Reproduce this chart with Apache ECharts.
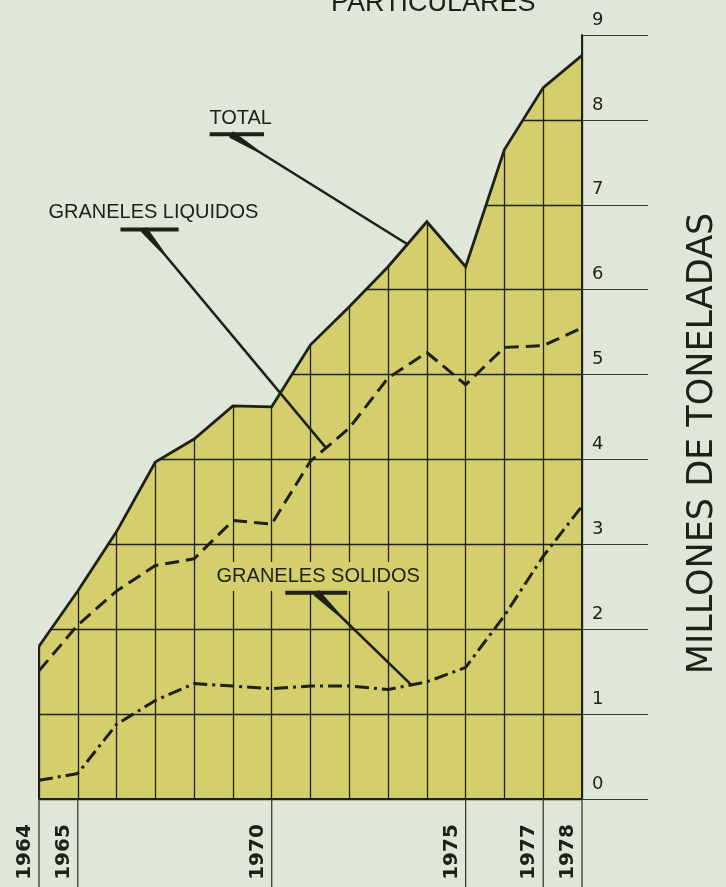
<!DOCTYPE html>
<html><head><meta charset="utf-8">
<script src="https://cdn.jsdelivr.net/npm/echarts@6/dist/echarts.min.js"></script>
<style>html,body{margin:0;padding:0;background:#dfe6da;}#c{width:726px;height:887px;}</style>
</head><body><div id="c"></div>
<script>
// ---- data ----
const years    = [1964,1965,1966,1967,1968,1969,1970,1971,1972,1973,1974,1975,1976,1977,1978];
const total    = [1.80,2.45,3.15,3.97,4.24,4.63,4.62,5.35,5.80,6.27,6.80,6.27,7.65,8.38,8.76];
const liquidos = [1.51,2.05,2.45,2.75,2.83,3.28,3.24,3.98,4.37,4.96,5.26,4.88,5.32,5.34,5.55];
const solidos  = [0.22,0.30,0.88,1.16,1.36,1.33,1.30,1.33,1.33,1.29,1.38,1.55,2.16,2.86,3.45];
const labeledYears = [1964,1965,1970,1975,1977,1978];
const yMin = 0, yMax = 9, yStep = 1;
const seriesNames = ['TOTAL','GRANELES LIQUIDOS','GRANELES SOLIDOS'];
const titleText = 'PARTICULARES';
const axisNameText = 'MILLONES DE TONELADAS';

// ---- style / layout ----
const INK = '#1f2016', BG = '#dfe6da', FILL = '#d4cf6c';
const annotations = [
  {ref:0, textAt:[1969.2,8.02], underline:[1968.4,1969.8,7.83], from:[1968.95,7.83], toX:1973.5, bg:false},
  {ref:1, textAt:[1966.95,6.91], underline:[1966.1,1967.6,6.71], from:[1966.7,6.71], toX:1971.4, bg:false},
  {ref:2, textAt:[1971.2,2.62], underline:[1970.35,1971.95,2.43], from:[1971.15,2.43], toX:1973.6, bg:true}
];
const seriesArrays = [total, liquidos, solidos];
const pair = arr => years.map((y,i)=>[y, arr[i]]);
function interp(arr, x){
  for (let i=0;i<years.length-1;i++){
    if (x>=years[i] && x<=years[i+1]){
      const t=(x-years[i])/(years[i+1]-years[i]);
      return arr[i]+t*(arr[i+1]-arr[i]);
    }
  }
  return arr[arr.length-1];
}
const maskTop = 9.15;

const chart = echarts.init(document.getElementById('c'), null, {renderer:'canvas'});
chart.setOption({
  backgroundColor: BG,
  animation: false,
  title: {text: titleText, left: 326, top: -15, textStyle:{fontFamily:'Liberation Sans', fontWeight:'normal', fontSize:27, color:INK}},
  grid: {left:39, right:144, top:35, bottom:88},
  xAxis: [{
    type:'value', min:1964, max:1978, interval:1, z:3,
    axisLine:{show:true, onZero:false, lineStyle:{color:INK, width:2}},
    axisTick:{show:false}, axisLabel:{show:false},
    splitLine:{show:true, lineStyle:{color:INK, width:1.3}}
  }],
  yAxis: [{
    type:'value', min:yMin, max:yMax, interval:yStep, position:'right', z:3,
    axisLine:{show:false}, axisTick:{show:false}, axisLabel:{show:false},
    splitLine:{show:true, lineStyle:{color:INK, width:1.3}}
  },{
    type:'value', min:yMin, max:yMax, interval:yStep, position:'right', z:5,
    axisLine:{show:true, lineStyle:{color:INK, width:2}},
    axisTick:{show:true, inside:false, length:66, lineStyle:{color:'#3a3b30', width:1.2}},
    axisLabel:{show:true, margin:10, align:'left', verticalAlign:'bottom', padding:[0,0,6,0],
      fontFamily:'DejaVu Sans', fontSize:18, color:INK},
    splitLine:{show:false}
  }],
  graphic: [{
    type:'text', left: 685, top: 'middle', z:10,
    rotation: Math.PI/2, originX:0, originY:0,
    style:{text: axisNameText, font:'normal 35px "DejaVu Sans"', fill:INK}
  }],
  series: [
    {name:'fill', type:'line', data:pair(total), symbol:'none', z:2,
      lineStyle:{width:0}, areaStyle:{color:FILL, opacity:1}, silent:true},
    {name:'mask', type:'custom', z:4, clip:false, silent:true,
      data:[[years[0], total[0]]],
      renderItem: function(params, api){
        const pts = years.map((y,i)=>api.coord([y, total[i]]));
        pts.push(api.coord([years[years.length-1], maskTop]));
        pts.push(api.coord([years[0], maskTop]));
        const l = api.coord([years[0], 0]);
        pts.push([l[0]-2, pts[pts.length-1][1]]);
        pts.push([l[0]-2, pts[0][1]]);
        return {type:'polygon', shape:{points:pts}, style:{fill:BG}};
      }
    },
    {name:seriesNames[0], type:'line', data:pair(total), symbol:'none', z:5,
      lineStyle:{color:INK, width:2.8, join:'miter'}},
    {name:seriesNames[1], type:'line', data:pair(liquidos), symbol:'none', z:5,
      lineStyle:{color:INK, width:3, type:[14,7]}},
    {name:seriesNames[2], type:'line', data:pair(solidos), symbol:'none', z:5,
      lineStyle:{color:INK, width:3, type:[14,5,3,5]}},
    {name:'fillEdgeLeft', type:'custom', z:5, clip:false, silent:true,
      data:[[years[0], total[0]]],
      renderItem: function(params, api){
        const a = api.coord([years[0], 0]), b = api.coord([years[0], total[0]]);
        return {type:'line', shape:{x1:a[0], y1:a[1], x2:b[0], y2:b[1]}, style:{stroke:INK, lineWidth:2}};
      }
    },
    {name:'yearTicks', type:'custom', z:5, clip:false,
      data: labeledYears.map(y=>[y,0]),
      renderItem: function(params, api){
        const p = api.coord([api.value(0), 0]);
        return {type:'group', children:[
          {type:'line', shape:{x1:p[0], y1:p[1], x2:p[0], y2:p[1]+95}, style:{stroke:'#3a3b30', lineWidth:1.3}},
          {type:'text', x:p[0]-14, y:p[1]+53, rotation:Math.PI/2,
            style:{text:String(api.value(0)), font:'bold 20px "DejaVu Sans"', fill:INK, align:'center', verticalAlign:'middle'}}
        ]};
      }
    },
    {name:'annotations', type:'custom', z:6, clip:false,
      data: annotations.map(a=>[a.textAt[0], a.textAt[1]]),
      renderItem: function(params, api){
        const a = annotations[params.dataIndex];
        const arr = seriesArrays[a.ref];
        const tp = api.coord(a.textAt);
        const u0 = api.coord([a.underline[0], a.underline[2]]);
        const u1 = api.coord([a.underline[1], a.underline[2]]);
        const s = api.coord(a.from);
        const e = api.coord([a.toX, interp(arr, a.toX)]);
        const dx=e[0]-s[0], dy=e[1]-s[1], L=Math.hypot(dx,dy);
        const ux=dx/L, uy=dy/L, nx=-uy, ny=ux;
        const w0=7.5, w1=2.6, wl=Math.min(32, L*0.3);
        const m=[s[0]+ux*wl, s[1]+uy*wl];
        const pts=[
          [s[0]+nx*w0/2, s[1]+ny*w0/2],[m[0]+nx*w1/2, m[1]+ny*w1/2],[e[0]+nx*w1/2, e[1]+ny*w1/2],
          [e[0]-nx*w1/2, e[1]-ny*w1/2],[m[0]-nx*w1/2, m[1]-ny*w1/2],[s[0]-nx*w0/2, s[1]-ny*w0/2]
        ];
        return {type:'group', children:[
          {type:'text', x:tp[0], y:tp[1], z2:1,
            style:{text:seriesNames[a.ref], font:'normal 20px "Liberation Sans"', fill:INK, align:'center', verticalAlign:'middle',
              backgroundColor: a.bg ? FILL : 'transparent', padding:[4,5,5,5]}},
          {type:'polygon', z2:2, shape:{points:pts}, style:{fill:INK}},
          {type:'rect', z2:2, shape:{x:u0[0], y:u0[1]-2, width:u1[0]-u0[0], height:4}, style:{fill:INK}}
        ]};
      }
    }
  ]
});
</script></body></html>
